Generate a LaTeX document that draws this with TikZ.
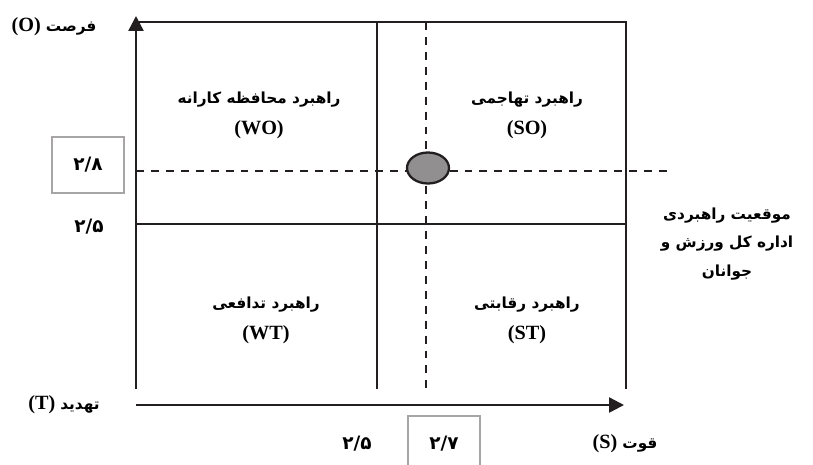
\documentclass[tikz,border=0pt]{standalone}
\usepackage{fontspec}
\setmainfont{Liberation Serif}
\newfontfamily\persianfont[Script=Arabic]{DejaVu Sans}
\TeXXeTstate=1
\newcommand*{\fa}[1]{{\persianfont\bfseries\fontsize{8.7}{12}\selectfont\beginR #1\endR}}
\newcommand*{\fanum}[1]{{\persianfont\bfseries\fontsize{10.5}{12}\selectfont #1}}
\definecolor{dot}{cmyk}{0.00,0.00,0.00,0.50}
\definecolor{frame}{cmyk}{0.00,0.00,0.00,0.40}
\definecolor{black}{cmyk}{0.00,0.00,0.00,1.00}
\usetikzlibrary{arrows.meta}
\usetikzlibrary{shapes.geometric}
\tikzstyle{base}=[x=0.02cm, y=-0.02cm, font=\bfseries\fontsize{11.5}{17.5}\selectfont]
\tikzstyle{grid}=[black, line width=1.3pt]
\tikzstyle{guide}=[black, line width=1pt, dash pattern=on 4.5pt off 4pt]
\tikzstyle{axis}=[black, line width=1.4pt, -{Triangle[length=8.5pt, width=8.5pt]}]
\tikzstyle{valbox}=[draw=frame, line width=1.2pt, minimum width=1.44cm, minimum height=1.12cm]
\tikzstyle{quad}=[align=center]
\tikzstyle{note}=[align=center, font=\bfseries\fontsize{11.5}{16}\selectfont]

\begin{document}
\begin{tikzpicture}[base]
    \path [use as bounding box] (0,0) rectangle (813,464);
        \coordinate (tl) at (136,22);
        \coordinate (tr) at (626,22);
        \coordinate (bl) at (136,389);
        \coordinate (br) at (626,389);
        \coordinate (mt) at (377,22);
        \coordinate (mb) at (377,389);
        \coordinate (ml) at (136,224);
        \coordinate (mr) at (626,224);
        \coordinate (dt) at (426,22);
        \coordinate (db) at (426,389);
        \coordinate (gl) at (136,171);
        \coordinate (gr) at (673,171);
        \coordinate (yend) at (136,16);
        \coordinate (x0) at (136,405);
        \coordinate (xend) at (624,405);
        \draw [grid] (tl) -- (tr) -- (br);
        \draw [grid] (mt) -- (mb);
        \draw [grid] (ml) -- (mr);
        \draw [guide] (dt) -- (db);
        \draw [guide] (gl) -- (gr);
        \draw [axis] (bl) -- (yend);
        \draw [axis] (x0) -- (xend);
        \node [ellipse, draw=black, line width=1.3pt, fill=dot, minimum width=0.84cm, minimum height=0.62cm, inner sep=0pt] (pos) at (428,168) {};
        \node [quad] (wo) at (259,115) {\fa{راهبرد محافظه کارانه}\\(WO)};
        \node [quad] (so) at (527,115) {\fa{راهبرد تهاجمی}\\(SO)};
        \node [quad] (wt) at (266,320) {\fa{راهبرد تدافعی}\\(WT)};
        \node [quad] (st) at (527,320) {\fa{راهبرد رقابتی}\\(ST)};
        \node (opp) at (54,27) {(O) \fa{فرصت}};
        \node (thr) at (64,405) {(T) \fa{تهدید}};
        \node (str) at (625,444) {(S) \fa{قوت}};
        \node [valbox] (yval) at (88,165) {\fanum{۲/۸}};
        \node (ylow) at (89,227) {\fanum{۲/۵}};
        \node (xlow) at (357,444) {\fanum{۲/۵}};
        \node [valbox] (xval) at (444,444) {\fanum{۲/۷}};
        \node [note] (place) at (727,244) {\fa{موقعیت راهبردی}\\\fa{اداره کل ورزش و}\\\fa{جوانان}};
    \end{tikzpicture}
\end{document}
